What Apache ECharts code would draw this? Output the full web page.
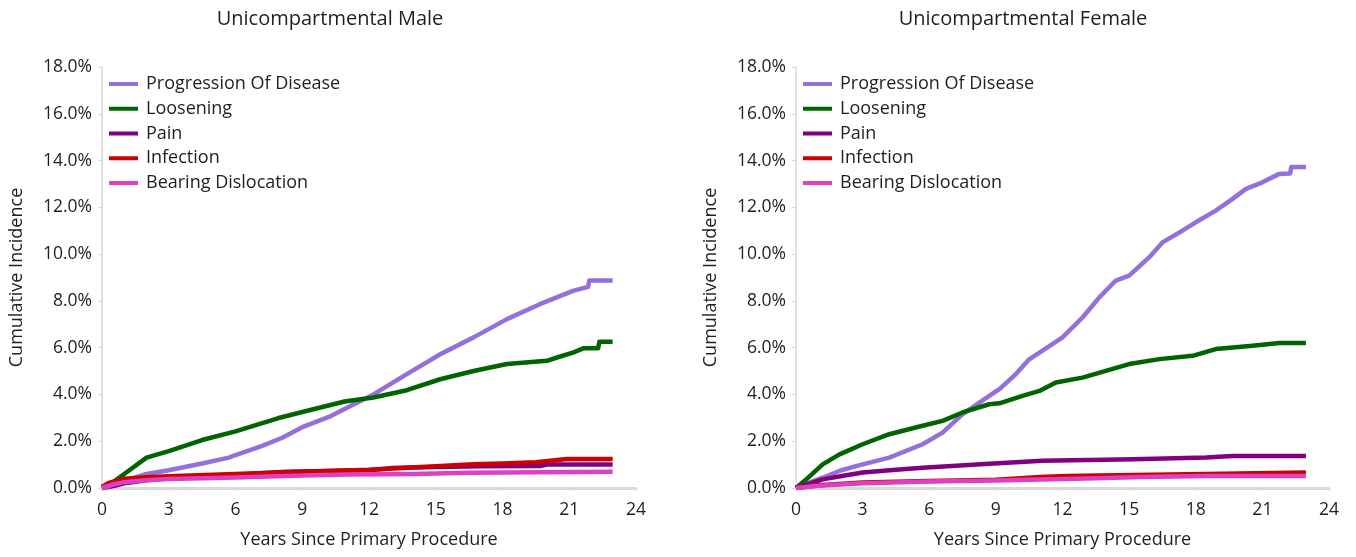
<!DOCTYPE html>
<html>
<head>
<meta charset="utf-8">
<script src="https://cdn.jsdelivr.net/npm/echarts@6/dist/echarts.min.js"></script>
<style>
html,body{margin:0;padding:0;background:#fff;}
#chart{width:1356px;height:557px;}
</style>
</head>
<body>
<div id="chart"></div>
<script>
// ---- Data (years since primary procedure, cumulative incidence %) ----
var seriesNames = ['Progression Of Disease', 'Loosening', 'Pain', 'Infection', 'Bearing Dislocation'];
var panelTitles = ['Unicompartmental Male', 'Unicompartmental Female'];
var xTicks = [0, 3, 6, 9, 12, 15, 18, 21, 24];
var yTicks = [0, 2, 4, 6, 8, 10, 12, 14, 16, 18];

var maleProgression = [[0,0],[0.5,0.1],[1,0.3],[2,0.6],[3,0.76],[4.5,1.05],[5.7,1.3],[6,1.41],[7.2,1.8],[8.1,2.15],[9,2.6],[10.2,3.04],[10.9,3.38],[12.2,4.0],[13.7,4.87],[15.2,5.72],[16.7,6.44],[18.2,7.22],[19.7,7.87],[21.2,8.44],[21.85,8.6],[21.9,8.87],[22.95,8.87]];
var maleLoosening = [[0,0],[0.5,0.25],[1,0.6],[2,1.3],[3,1.58],[4.5,2.05],[6,2.42],[7.9,2.98],[9,3.25],[10.9,3.7],[12.2,3.87],[13.7,4.18],[15.2,4.65],[16.7,5.0],[18.2,5.3],[20,5.44],[20.45,5.58],[21.2,5.8],[21.65,5.98],[22.3,5.98],[22.35,6.25],[22.95,6.25]];
var malePain = [[0,0],[0.5,0.08],[1,0.2],[2,0.33],[3,0.42],[4.5,0.5],[6,0.57],[8.3,0.7],[9.5,0.72],[12,0.76],[13,0.85],[15,0.9],[17,0.93],[19.7,0.94],[20,1.0],[22.95,1.0]];
var maleInfection = [[0,0.05],[0.3,0.22],[1,0.4],[2,0.46],[3,0.5],[6,0.6],[9,0.7],[12,0.78],[15,0.93],[16.7,1.02],[18,1.05],[19.5,1.1],[20.9,1.24],[22.95,1.24]];
var maleBearing = [[0,0],[0.5,0.15],[1,0.25],[2,0.33],[3,0.38],[6,0.45],[9,0.53],[11,0.58],[14,0.6],[14.05,0.63],[16.5,0.65],[16.55,0.7],[22.95,0.7]];

var femaleProgression = [[0,0],[0.5,0.2],[1.2,0.44],[2,0.75],[3,1.01],[4.2,1.3],[5.7,1.87],[6.6,2.37],[7.5,3.16],[8.7,3.94],[9.16,4.23],[9.9,4.87],[10.5,5.5],[11.1,5.87],[12,6.44],[12.9,7.29],[13.66,8.15],[14.4,8.87],[15,9.08],[15.9,9.86],[16.5,10.5],[17.4,11.0],[18,11.36],[18.9,11.86],[19.66,12.36],[20.26,12.79],[21,13.07],[21.76,13.43],[22.25,13.45],[22.3,13.72],[22.96,13.72]];
var femaleLoosening = [[0,0],[0.5,0.4],[1.2,1.01],[1.96,1.44],[3,1.87],[4.2,2.3],[5.7,2.66],[6.6,2.87],[7.5,3.23],[8.7,3.58],[9.16,3.62],[10.2,3.94],[10.96,4.15],[11.7,4.51],[12.9,4.72],[15,5.3],[16.36,5.51],[17.86,5.65],[18.9,5.94],[20.56,6.08],[21.76,6.2],[22.96,6.2]];
var femalePain = [[0,0],[0.5,0.15],[1.2,0.37],[2,0.5],[3,0.66],[4.5,0.78],[5.7,0.87],[8.7,1.04],[11.1,1.16],[15.2,1.23],[18.46,1.3],[19.66,1.37],[22.96,1.37]];
var femaleInfection = [[0,0],[1,0.12],[3,0.23],[6,0.3],[9,0.35],[11,0.47],[12.2,0.51],[15.2,0.56],[18.46,0.6],[18.5,0.66],[22.96,0.66]];
var femaleBearing = [[0,0],[1,0.1],[3,0.2],[6,0.28],[9,0.32],[11,0.36],[12.2,0.38],[15.6,0.47],[18.46,0.51],[22.96,0.51]];

var colors = ['#9370DB', '#006400', '#800080', '#CC0000', '#DD40C0'];
var panels = [
  [maleProgression, maleLoosening, malePain, maleInfection, maleBearing],
  [femaleProgression, femaleLoosening, femalePain, femaleInfection, femaleBearing]
];

var FONT = 'Open Sans';
var TXT = '#1f1f1f';
var grids = [
  {left: 102, right: 720, top: 67, bottom: 69},
  {left: 796, right: 27, top: 67, bottom: 69}
];
var titleCenters = [330, 1023];
var legendLefts = [109, 803];

var option = {
  backgroundColor: '#fff',
  animation: false,
  textStyle: {fontFamily: FONT},
  title: panelTitles.map(function (t, i) {
    return {text: t, left: titleCenters[i], top: 6, padding: 0, textAlign: 'center',
      textStyle: {fontFamily: FONT, fontSize: 20, fontWeight: 'normal', color: TXT, lineHeight: 26}};
  }),
  legend: [0, 1].map(function (i) {
    return {
      orient: 'vertical', left: legendLefts[i], top: 75, padding: 0,
      itemWidth: 29, itemHeight: 4, itemGap: 6.75, icon: 'rect',
      data: seriesNames,
      textStyle: {fontFamily: FONT, fontSize: 18, color: TXT, lineHeight: 18, padding: [0, 0, 0, 3]}
    };
  }),
  grid: grids,
  xAxis: [0, 1].map(function (i) {
    return {
      type: 'value', gridIndex: i, min: xTicks[0], max: xTicks[xTicks.length - 1], interval: 3,
      name: 'Years Since Primary Procedure', nameLocation: 'middle', nameGap: 43,
      nameTextStyle: {fontFamily: FONT, fontSize: 18, color: TXT},
      axisLine: {show: true, lineStyle: {color: '#d9d9d9', width: 3}},
      axisTick: {show: true, length: 3, lineStyle: {color: '#d9d9d9'}},
      splitLine: {show: false},
      axisLabel: {fontFamily: FONT, fontSize: 17.5, color: TXT, margin: 13}
    };
  }),
  yAxis: [0, 1].map(function (i) {
    return {
      type: 'value', gridIndex: i, min: yTicks[0], max: yTicks[yTicks.length - 1], interval: 2,
      name: 'Cumulative Incidence', nameLocation: 'middle', nameGap: 76, nameRotate: 90,
      nameTextStyle: {fontFamily: FONT, fontSize: 18, color: TXT},
      axisLine: {show: true, lineStyle: {color: '#d9d9d9', width: 1.5}},
      axisTick: {show: true, length: 4, lineStyle: {color: '#d9d9d9'}},
      splitLine: {show: false},
      axisLabel: {fontFamily: FONT, fontSize: 17.5, color: TXT, margin: 10,
        formatter: function (v) { return v.toFixed(1) + '%'; }}
    };
  }),
  series: []
};

panels.forEach(function (panel, pi) {
  panel.forEach(function (data, si) {
    option.series.push({
      type: 'line', name: seriesNames[si], xAxisIndex: pi, yAxisIndex: pi,
      data: data, showSymbol: false, symbol: 'none',
      color: colors[si],
      lineStyle: {color: colors[si], width: 4.5, cap: 'butt', join: 'round'},
      z: 2 + si
    });
  });
});

var chart = echarts.init(document.getElementById('chart'), null, {renderer: 'canvas'});
chart.setOption(option);
</script>
</body>
</html>
